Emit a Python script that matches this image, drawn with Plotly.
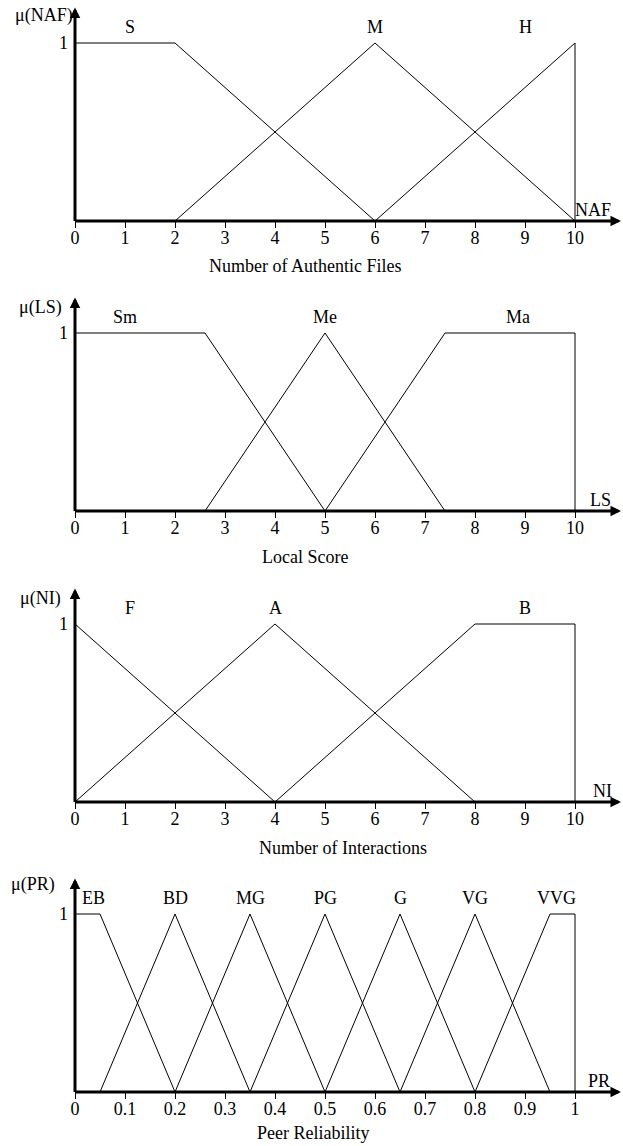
import plotly.graph_objects as go

# ---------------- data ----------------
naf_sets = ["S", "M", "H"]
naf_x = [[0, 2, 6], [2, 6, 10], [6, 10, 10]]
naf_y = [[1, 1, 0], [0, 1, 0], [0, 1, 0]]
naf_label_x = [1.1, 6, 9]

ls_sets = ["Sm", "Me", "Ma"]
ls_x = [[0, 2.6, 5], [2.6, 5, 7.4], [5, 7.4, 10, 10]]
ls_y = [[1, 1, 0], [0, 1, 0], [0, 1, 1, 0]]
ls_label_x = [1.0, 5, 8.85]

ni_sets = ["F", "A", "B"]
ni_x = [[0, 4], [0, 4, 8], [4, 8, 10, 10]]
ni_y = [[1, 0], [0, 1, 0], [0, 1, 1, 0]]
ni_label_x = [1.1, 4, 9]

pr_sets = ["EB", "BD", "MG", "PG", "G", "VG", "VVG"]
pr_x = [[0, 0.05, 0.2], [0.05, 0.2, 0.35], [0.2, 0.35, 0.5], [0.35, 0.5, 0.65],
        [0.5, 0.65, 0.8], [0.65, 0.8, 0.95], [0.8, 0.95, 1, 1]]
pr_y = [[1, 1, 0], [0, 1, 0], [0, 1, 0], [0, 1, 0], [0, 1, 0], [0, 1, 0], [0, 1, 1, 0]]
pr_label_x = [0.036, 0.2, 0.35, 0.5, 0.65, 0.8, 0.962]

ticks_10 = [0, 1, 2, 3, 4, 5, 6, 7, 8, 9, 10]
ticks_pr = [0, 0.1, 0.2, 0.3, 0.4, 0.5, 0.6, 0.7, 0.8, 0.9, 1]
ticks_pr_text = ["0", "0.1", "0.2", "0.3", "0.4", "0.5", "0.6", "0.7", "0.8", "0.9", "1"]

panels = [
    dict(sets=naf_sets, xs=naf_x, ys=naf_y, lx=naf_label_x, scale=1.0,
         ticks=ticks_10, ticktext=[str(t) for t in ticks_10],
         ylab="μ(NAF)", ylab_pos=(-0.62, 1.157), end="NAF", end_x=10.36,
         title="Number of Authentic Files", title_x=4.6, title_off=45),
    dict(sets=ls_sets, xs=ls_x, ys=ls_y, lx=ls_label_x, scale=1.0,
         ticks=ticks_10, ticktext=[str(t) for t in ticks_10],
         ylab="μ(LS)", ylab_pos=(-0.7, 1.146), end="LS", end_x=10.5,
         title="Local Score", title_x=4.6, title_off=46),
    dict(sets=ni_sets, xs=ni_x, ys=ni_y, lx=ni_label_x, scale=1.0,
         ticks=ticks_10, ticktext=[str(t) for t in ticks_10],
         ylab="μ(NI)", ylab_pos=(-0.7, 1.146), end="NI", end_x=10.54,
         title="Number of Interactions", title_x=5.36, title_off=46),
    dict(sets=pr_sets, xs=pr_x, ys=pr_y, lx=pr_label_x, scale=0.1,
         ticks=ticks_pr, ticktext=ticks_pr_text,
         ylab="μ(PR)", ylab_pos=(-0.84, 1.163), end="PR", end_x=10.48,
         title="Peer Reliability", title_x=4.76, title_off=41),
]

# ---------------- layout geometry ----------------
W, H = 623, 1146
X0 = 75.0          # pixel of x = 0
PPU = 50.0         # pixels per unit (0..10)
UNIT_H = 178.0     # pixels for mu = 1
baselines = [221, 511, 802, 1092]
YMAX = 1.24
FONT = "Liberation Serif, Times New Roman, serif"
FS = 18

fig = go.Figure()
layout = dict(width=W, height=H, margin=dict(l=0, r=0, t=0, b=0),
              paper_bgcolor="white", plot_bgcolor="white", showlegend=False,
              font=dict(family=FONT, size=FS, color="black"))
annotations = []

for i, p in enumerate(panels):
    n = "" if i == 0 else str(i + 1)
    xa, ya = "x" + n, "y" + n
    s = p["scale"]
    xr = [(-X0 / PPU) * s, ((W - X0) / PPU) * s]
    bottom = 1 - baselines[i] / H
    top = bottom + YMAX * UNIT_H / H
    layout["xaxis" + n] = dict(domain=[0, 1], range=xr, anchor=ya,
                               showgrid=False, zeroline=False, showline=False,
                               ticks="outside", ticklen=6, tickwidth=1, tickcolor="black",
                               ticklabelstandoff=-6,
                               tickvals=p["ticks"], ticktext=p["ticktext"],
                               tickfont=dict(family=FONT, size=FS, color="black"))
    layout["yaxis" + n] = dict(domain=[bottom, top], range=[0, YMAX], anchor="free",
                               position=X0 / W,
                               showgrid=False, zeroline=False, showline=False,
                               ticks="", tickvals=[1], ticktext=["1"], ticklabelstandoff=7,
                               tickfont=dict(family=FONT, size=FS, color="black"))
    for xs, ys in zip(p["xs"], p["ys"]):
        fig.add_trace(go.Scatter(x=xs, y=ys, mode="lines", xaxis=xa, yaxis=ya,
                                 line=dict(color="black", width=1),
                                 hoverinfo="skip", showlegend=False))
    # set labels
    for name, lx in zip(p["sets"], p["lx"]):
        annotations.append(dict(x=lx, y=1, yshift=16, xref=xa, yref=ya, text=name,
                                showarrow=False, xanchor="center", yanchor="middle",
                                font=dict(family=FONT, size=FS, color="black")))
    # axes with arrows
    annotations.append(dict(x=10.92 * s, y=0, ax=-0.03 * s, ay=0, xref=xa, yref=ya,
                            axref=xa, ayref=ya, text="", showarrow=True, arrowhead=2,
                            arrowwidth=3, arrowsize=0.7, arrowcolor="black"))
    annotations.append(dict(x=0, y=1.2, ax=0, ay=-0.008, xref=xa, yref=ya,
                            axref=xa, ayref=ya, text="", showarrow=True, arrowhead=2,
                            arrowwidth=3, arrowsize=0.7, arrowcolor="black"))
    # y label, axis end label, title
    annotations.append(dict(x=p["ylab_pos"][0] * s, y=p["ylab_pos"][1], xref=xa, yref=ya,
                            text=p["ylab"], showarrow=False, xanchor="center", yanchor="middle",
                            font=dict(family=FONT, size=FS, color="black")))
    annotations.append(dict(x=p["end_x"] * s, y=0, yshift=11, xref=xa, yref=ya,
                            text=p["end"], showarrow=False, xanchor="center", yanchor="middle",
                            font=dict(family=FONT, size=FS, color="black")))
    annotations.append(dict(x=p["title_x"] * s, y=0, yshift=-p["title_off"], xref=xa, yref=ya,
                            text=p["title"], showarrow=False, xanchor="center", yanchor="middle",
                            font=dict(family=FONT, size=FS, color="black")))

layout["annotations"] = annotations
fig.update_layout(**layout)
fig.write_html("out.html", config={"displayModeBar": False, "staticPlot": True},
               post_script="document.body.style.margin='0';document.body.style.overflow='hidden';")
